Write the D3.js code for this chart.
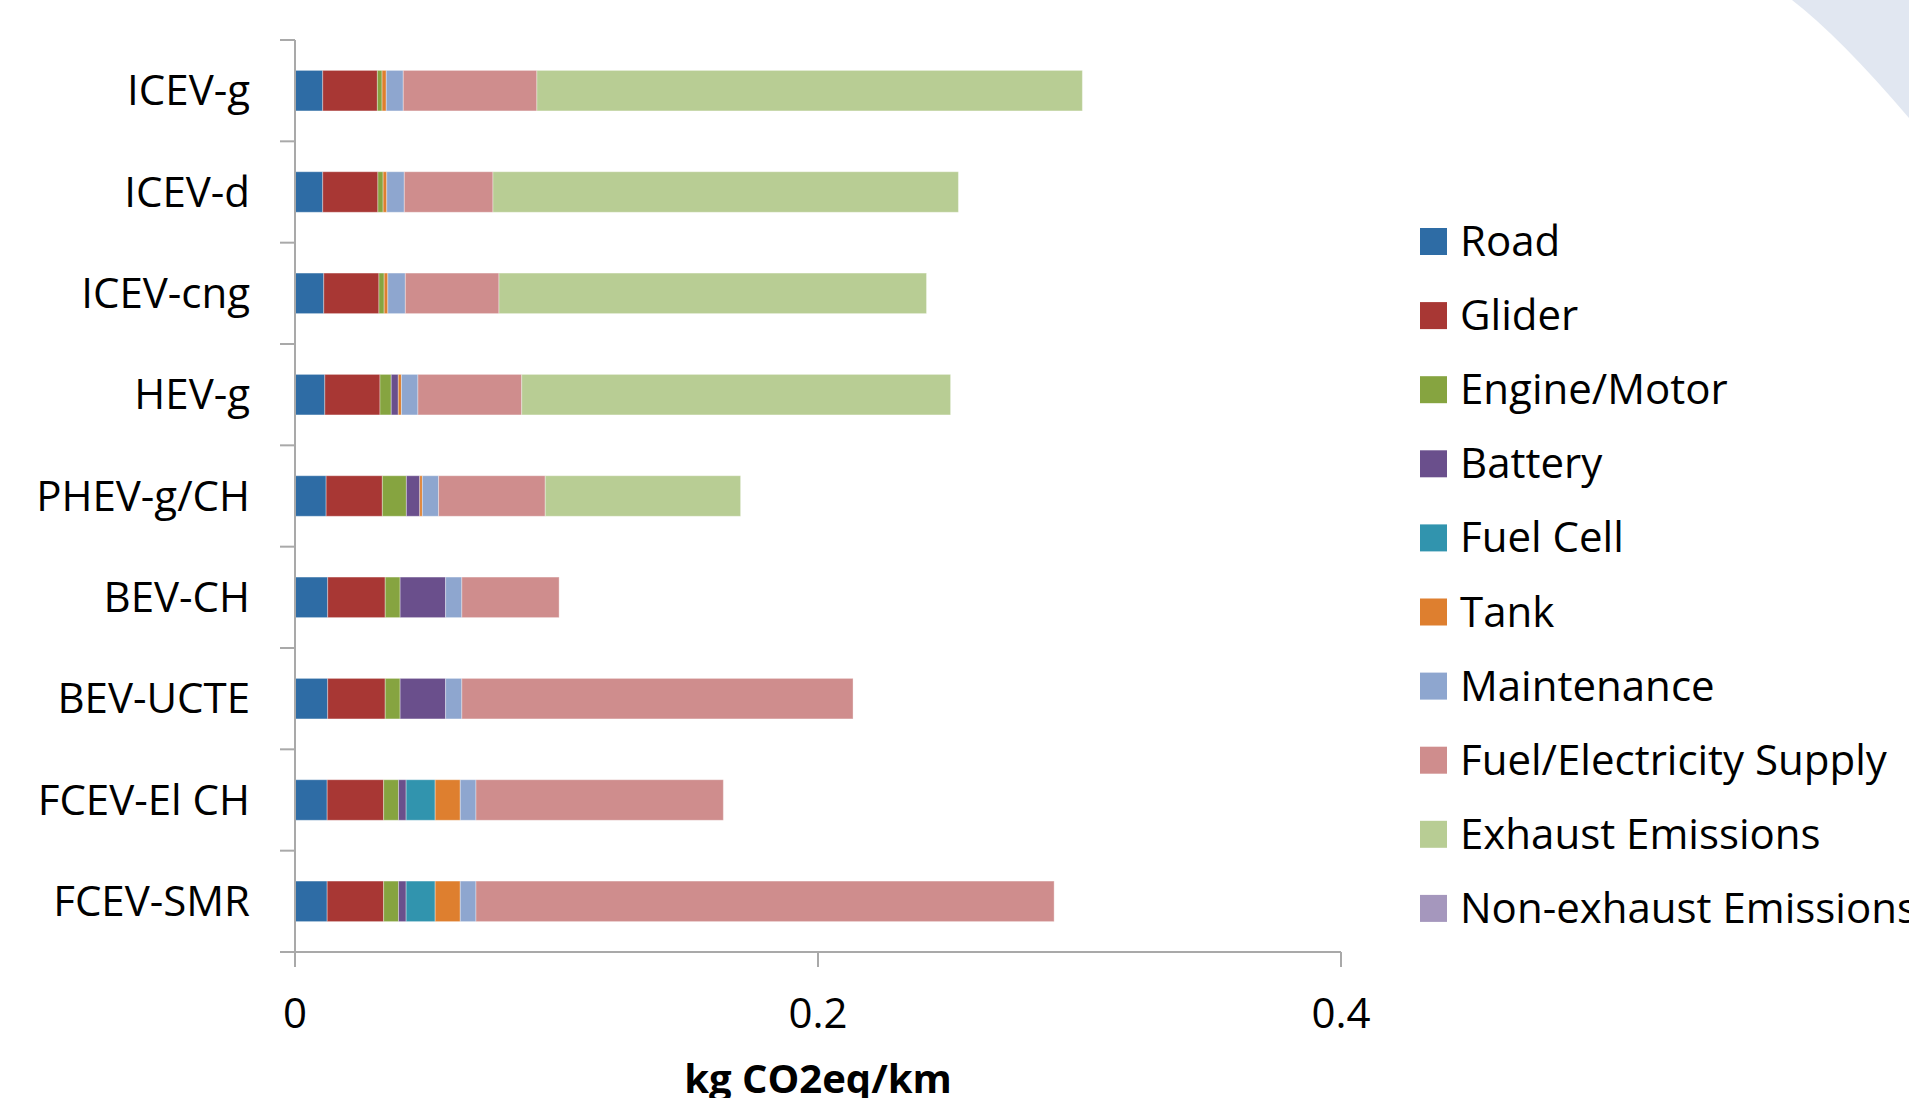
<!DOCTYPE html>
<html>
<head>
<meta charset="utf-8">
<script src="https://cdn.jsdelivr.net/npm/d3@7"></script>
<style>
  html, body { margin: 0; padding: 0; background: #fff; overflow: hidden; }
  svg { display: block; font-family: "Open Sans", "Noto Sans", sans-serif; }
</style>
</head>
<body>
<svg id="chart" width="1909" height="1098"></svg>
<script>
// Vehicle/energy pathways, top to bottom
const categories = ["ICEV-g", "ICEV-d", "ICEV-cng", "HEV-g", "PHEV-g/CH", "BEV-CH", "BEV-UCTE", "FCEV-El CH", "FCEV-SMR"];

// Life-cycle contributions, kg CO2eq per km, one value per category
const road        = [0.0106, 0.0106, 0.0110, 0.0114, 0.0119, 0.0125, 0.0125, 0.0123, 0.0123];
const glider      = [0.0209, 0.0211, 0.0211, 0.0211, 0.0215, 0.0220, 0.0220, 0.0216, 0.0216];
const engineMotor = [0.0018, 0.0020, 0.0020, 0.0043, 0.0092, 0.0057, 0.0057, 0.0057, 0.0057];
const battery     = [0, 0, 0, 0.0027, 0.0051, 0.0174, 0.0174, 0.0029, 0.0029];
const fuelCell    = [0, 0, 0, 0, 0, 0, 0, 0.0111, 0.0111];
const tank        = [0.0016, 0.0014, 0.0014, 0.0012, 0.0010, 0, 0, 0.0096, 0.0096];
const maintenance = [0.0065, 0.0067, 0.0067, 0.0063, 0.0062, 0.0062, 0.0062, 0.0060, 0.0060];
const fuelSupply  = [0.0511, 0.0339, 0.0358, 0.0397, 0.0408, 0.0372, 0.1496, 0.0946, 0.2211];
const exhaust     = [0.2086, 0.1780, 0.1635, 0.1640, 0.0747, 0, 0, 0, 0];
const nonExhaust  = [0, 0, 0, 0, 0, 0, 0, 0, 0];

const seriesNames = ["Road", "Glider", "Engine/Motor", "Battery", "Fuel Cell", "Tank",
                     "Maintenance", "Fuel/Electricity Supply", "Exhaust Emissions", "Non-exhaust Emissions"];
const seriesValues = [road, glider, engineMotor, battery, fuelCell, tank, maintenance, fuelSupply, exhaust, nonExhaust];
const seriesColors = ["#2E6CA5", "#A83734", "#86A440", "#6A4F8C", "#3194AE", "#DE7F2F",
                      "#8EA6CF", "#CF8D8D", "#B8CD94", "#A597BD"];

const xTicks = [0, 0.2, 0.4];
const xTickLabels = ["0", "0.2", "0.4"];
const xAxisTitle = "kg CO2eq/km";

// Rows for the stack layout
const rows = categories.map((c, i) => {
  const r = { category: c };
  seriesNames.forEach((s, k) => { r[s] = seriesValues[k][i]; });
  return r;
});

const svg = d3.select("#chart");

// Soft corner decoration of the slide background
svg.append("path")
  .attr("d", "M1792,0 Q1840,37 1909,118 L1909,0 Z")
  .attr("fill", "#E1E7F1");

const plot = { left: 295, right: 1341, top: 40, bottom: 952 };

const x = d3.scaleLinear().domain([0, 0.4]).range([plot.left, plot.right]);
const y = d3.scaleBand().domain(categories).range([plot.top, plot.bottom])
  .paddingInner(0.6).paddingOuter(0.3);
const color = d3.scaleOrdinal().domain(seriesNames).range(seriesColors);

const stacked = d3.stack().keys(seriesNames)(rows);

// Stacked bars
svg.append("g")
  .selectAll("g")
  .data(stacked)
  .join("g")
    .attr("fill", d => color(d.key))
  .selectAll("rect")
  .data(d => d.filter(p => p[1] - p[0] > 0))
  .join("rect")
    .attr("x", d => x(d[0]))
    .attr("y", d => y(d.data.category))
    .attr("width", d => x(d[1]) - x(d[0]))
    .attr("height", y.bandwidth())
    .attr("stroke", "#ffffff")
    .attr("stroke-opacity", 0.35)
    .attr("stroke-width", 1);

const axisColor = "#A9A9A9";

// Vertical category axis with tick marks between the rows
const yAxis = svg.append("g");
yAxis.append("line")
  .attr("x1", plot.left).attr("x2", plot.left)
  .attr("y1", plot.top).attr("y2", plot.bottom)
  .attr("stroke", axisColor).attr("stroke-width", 2);
const boundaries = d3.range(categories.length + 1).map(i => plot.top + i * y.step());
yAxis.selectAll("line.tick")
  .data(boundaries)
  .join("line")
    .attr("class", "tick")
    .attr("x1", plot.left - 15).attr("x2", plot.left)
    .attr("y1", d => d).attr("y2", d => d)
    .attr("stroke", axisColor).attr("stroke-width", 2);
yAxis.selectAll("text")
  .data(categories)
  .join("text")
    .attr("x", 250)
    .attr("y", d => y(d) + y.bandwidth() / 2)
    .attr("dy", "0.35em")
    .attr("text-anchor", "end")
    .attr("font-size", 42)
    .attr("fill", "#000")
    .text(d => d);

// Horizontal value axis
const xAxis = svg.append("g");
xAxis.append("line")
  .attr("x1", plot.left).attr("x2", plot.right)
  .attr("y1", plot.bottom).attr("y2", plot.bottom)
  .attr("stroke", axisColor).attr("stroke-width", 2);
xAxis.selectAll("line.tick")
  .data(xTicks)
  .join("line")
    .attr("class", "tick")
    .attr("x1", d => x(d)).attr("x2", d => x(d))
    .attr("y1", plot.bottom).attr("y2", plot.bottom + 15)
    .attr("stroke", axisColor).attr("stroke-width", 2);
xAxis.selectAll("text")
  .data(xTicks)
  .join("text")
    .attr("x", d => x(d))
    .attr("y", 1028)
    .attr("text-anchor", "middle")
    .attr("font-size", 42)
    .attr("fill", "#000")
    .text((d, i) => xTickLabels[i]);

svg.append("text")
  .attr("x", (plot.left + plot.right) / 2)
  .attr("y", 1093)
  .attr("text-anchor", "middle")
  .attr("font-size", 40)
  .attr("font-weight", "bold")
  .attr("fill", "#000")
  .text(xAxisTitle);

// Legend
const legend = svg.append("g").attr("transform", "translate(1420,228)");
const item = legend.selectAll("g")
  .data(seriesNames)
  .join("g")
    .attr("transform", (d, i) => `translate(0,${i * 74.1})`);
item.append("rect")
  .attr("width", 27).attr("height", 27)
  .attr("fill", d => color(d));
item.append("text")
  .attr("x", 40)
  .attr("y", 28)
  .attr("font-size", 42)
  .attr("fill", "#000")
  .text(d => d);
</script>
</body>
</html>
